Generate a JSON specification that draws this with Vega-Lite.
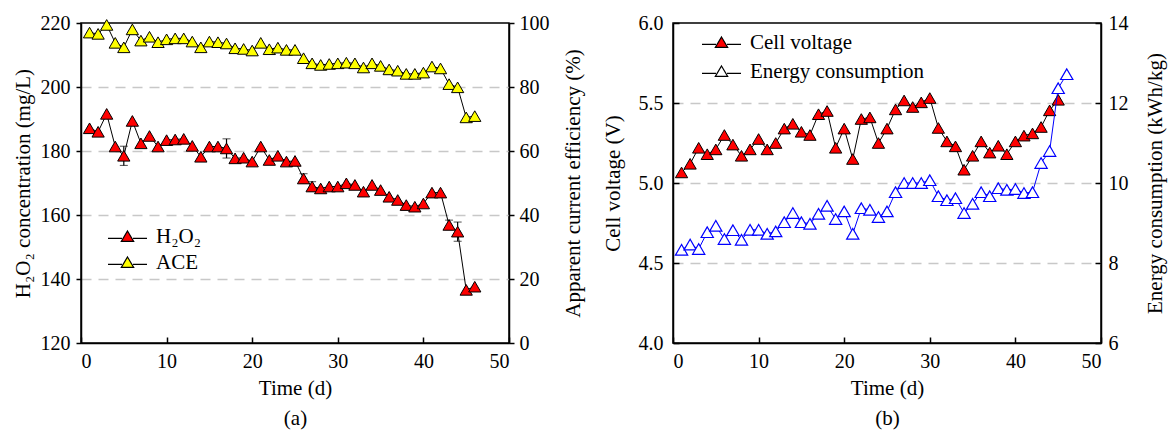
{
  "$schema": "https://vega.github.io/schema/vega-lite/v6.json",
  "background": "white",
  "padding": {"left": 11, "top": 12, "right": 2, "bottom": 2},
  "bounds": "flush",
  "spacing": 164,
  "config": {
    "font": "Liberation Serif, Times New Roman, Times, serif",
    "view": {"stroke": "black", "strokeWidth": 1.5},
    "axis": {
      "domainColor": "black", "domainWidth": 1.5,
      "tickColor": "black", "tickWidth": 1.5, "tickSize": 5,
      "labelFont": "Liberation Serif, Times New Roman, Times, serif", "labelFontSize": 20, "labelColor": "black",
      "titleFont": "Liberation Serif, Times New Roman, Times, serif", "titleFontSize": 21, "titleFontWeight": "normal", "titleColor": "black",
      "grid": false,
      "gridColor": "#c8c8c8", "gridDash": [10, 7], "gridWidth": 1.5
    },
    "legend": {"labelFont": "Liberation Serif, Times New Roman, Times, serif", "labelFontSize": 21, "labelColor": "black", "labelLimit": 0}
  },
  "datasets": {
    "h2o2": [
      {"day": 1, "v": 187.1}, {"day": 2, "v": 186.0}, {"day": 3, "v": 191.6}, {"day": 4, "v": 181.4},
      {"day": 5, "v": 178.5, "err": 3}, {"day": 6, "v": 189.4}, {"day": 7, "v": 182.4}, {"day": 8, "v": 184.7},
      {"day": 9, "v": 181.4}, {"day": 10, "v": 183.4}, {"day": 11, "v": 183.6}, {"day": 12, "v": 183.8},
      {"day": 13, "v": 181.6}, {"day": 14, "v": 178.2}, {"day": 15, "v": 181.4}, {"day": 16, "v": 181.4},
      {"day": 17, "v": 180.8, "err": 3}, {"day": 18, "v": 177.7}, {"day": 19, "v": 177.9}, {"day": 20, "v": 176.7},
      {"day": 21, "v": 181.4}, {"day": 22, "v": 177.2}, {"day": 23, "v": 178.5}, {"day": 24, "v": 176.7},
      {"day": 25, "v": 176.9}, {"day": 26, "v": 171.4, "err": 1.5}, {"day": 27, "v": 168.9, "err": 1.5}, {"day": 28, "v": 168.3},
      {"day": 29, "v": 168.9}, {"day": 30, "v": 168.9}, {"day": 31, "v": 169.9}, {"day": 32, "v": 169.4},
      {"day": 33, "v": 167.3}, {"day": 34, "v": 169.4}, {"day": 35, "v": 167.8}, {"day": 36, "v": 165.7},
      {"day": 37, "v": 164.7}, {"day": 38, "v": 163.1}, {"day": 39, "v": 162.6}, {"day": 40, "v": 163.6},
      {"day": 41, "v": 167.0}, {"day": 42, "v": 167.0}, {"day": 43, "v": 156.9, "err": 1.5}, {"day": 44, "v": 154.8, "err": 3},
      {"day": 45, "v": 136.6}, {"day": 46, "v": 137.6}
    ],
    "ace": [
      {"day": 1, "v": 97.0}, {"day": 2, "v": 96.6}, {"day": 3, "v": 99.4}, {"day": 4, "v": 93.8},
      {"day": 5, "v": 92.4}, {"day": 6, "v": 98.0}, {"day": 7, "v": 94.5}, {"day": 8, "v": 95.7},
      {"day": 9, "v": 94.0}, {"day": 10, "v": 94.9}, {"day": 11, "v": 95.2}, {"day": 12, "v": 95.2},
      {"day": 13, "v": 94.2}, {"day": 14, "v": 92.4}, {"day": 15, "v": 94.2}, {"day": 16, "v": 94.0},
      {"day": 17, "v": 93.6}, {"day": 18, "v": 92.1}, {"day": 19, "v": 91.9}, {"day": 20, "v": 91.4},
      {"day": 21, "v": 93.8}, {"day": 22, "v": 91.8}, {"day": 23, "v": 92.3}, {"day": 24, "v": 91.6},
      {"day": 25, "v": 91.6}, {"day": 26, "v": 89.0}, {"day": 27, "v": 87.4}, {"day": 28, "v": 86.9},
      {"day": 29, "v": 87.2}, {"day": 30, "v": 87.4}, {"day": 31, "v": 87.6}, {"day": 32, "v": 87.4},
      {"day": 33, "v": 86.1}, {"day": 34, "v": 87.4}, {"day": 35, "v": 86.6}, {"day": 36, "v": 85.5},
      {"day": 37, "v": 85.1}, {"day": 38, "v": 84.1}, {"day": 39, "v": 84.1}, {"day": 40, "v": 84.5},
      {"day": 41, "v": 86.4}, {"day": 42, "v": 85.8}, {"day": 43, "v": 80.9}, {"day": 44, "v": 79.9},
      {"day": 45, "v": 70.5}, {"day": 46, "v": 70.9}
    ],
    "volt": [
      {"day": 1, "v": 5.066}, {"day": 2, "v": 5.12}, {"day": 3, "v": 5.22}, {"day": 4, "v": 5.18},
      {"day": 5, "v": 5.21}, {"day": 6, "v": 5.30}, {"day": 7, "v": 5.24}, {"day": 8, "v": 5.17},
      {"day": 9, "v": 5.21}, {"day": 10, "v": 5.275}, {"day": 11, "v": 5.21}, {"day": 12, "v": 5.25},
      {"day": 13, "v": 5.34}, {"day": 14, "v": 5.37}, {"day": 15, "v": 5.32}, {"day": 16, "v": 5.30},
      {"day": 17, "v": 5.43}, {"day": 18, "v": 5.45}, {"day": 19, "v": 5.22}, {"day": 20, "v": 5.34},
      {"day": 21, "v": 5.15}, {"day": 22, "v": 5.40}, {"day": 23, "v": 5.41}, {"day": 24, "v": 5.25},
      {"day": 25, "v": 5.34}, {"day": 26, "v": 5.46}, {"day": 27, "v": 5.516}, {"day": 28, "v": 5.475},
      {"day": 29, "v": 5.504}, {"day": 30, "v": 5.531}, {"day": 31, "v": 5.344}, {"day": 32, "v": 5.26},
      {"day": 33, "v": 5.229}, {"day": 34, "v": 5.083}, {"day": 35, "v": 5.17}, {"day": 36, "v": 5.26},
      {"day": 37, "v": 5.19}, {"day": 38, "v": 5.233}, {"day": 39, "v": 5.18}, {"day": 40, "v": 5.26},
      {"day": 41, "v": 5.296}, {"day": 42, "v": 5.31}, {"day": 43, "v": 5.35}, {"day": 44, "v": 5.454},
      {"day": 45, "v": 5.52}
    ],
    "energy": [
      {"day": 1, "v": 8.33}, {"day": 2, "v": 8.46}, {"day": 3, "v": 8.35}, {"day": 4, "v": 8.77},
      {"day": 5, "v": 8.93}, {"day": 6, "v": 8.60}, {"day": 7, "v": 8.82}, {"day": 8, "v": 8.58},
      {"day": 9, "v": 8.83}, {"day": 10, "v": 8.83}, {"day": 11, "v": 8.73}, {"day": 12, "v": 8.79},
      {"day": 13, "v": 9.02}, {"day": 14, "v": 9.25}, {"day": 15, "v": 9.02}, {"day": 16, "v": 8.98},
      {"day": 17, "v": 9.23}, {"day": 18, "v": 9.43}, {"day": 19, "v": 9.10}, {"day": 20, "v": 9.29},
      {"day": 21, "v": 8.73}, {"day": 22, "v": 9.37}, {"day": 23, "v": 9.33}, {"day": 24, "v": 9.15},
      {"day": 25, "v": 9.29}, {"day": 26, "v": 9.77}, {"day": 27, "v": 10.0}, {"day": 28, "v": 10.0},
      {"day": 29, "v": 10.0}, {"day": 30, "v": 10.07}, {"day": 31, "v": 9.67}, {"day": 32, "v": 9.57},
      {"day": 33, "v": 9.62}, {"day": 34, "v": 9.25}, {"day": 35, "v": 9.48}, {"day": 36, "v": 9.77},
      {"day": 37, "v": 9.67}, {"day": 38, "v": 9.87}, {"day": 39, "v": 9.83}, {"day": 40, "v": 9.85},
      {"day": 41, "v": 9.75}, {"day": 42, "v": 9.77}, {"day": 43, "v": 10.5}, {"day": 44, "v": 10.8},
      {"day": 45, "v": 12.37}, {"day": 46, "v": 12.72}
    ]
  },
  "hconcat": [
    {
      "width": 428, "height": 320,
      "layer": [
        {
          "data": {"name": "h2o2"},
          "encoding": {
            "x": {"field": "day", "type": "quantitative", "scale": {"domain": [0, 50]},
                  "axis": {"values": [0, 10, 20, 30, 40, 50], "title": ["Time (d)", "(a)"], "titleLineHeight": 30, "titlePadding": 6, "tickSize": -6, "labelPadding": 14}},
            "y": {"field": "v", "type": "quantitative", "scale": {"domain": [120, 220]},
                  "axis": {"orient": "left", "values": [120, 140, 160, 180, 200, 220], "title": "H₂O₂ concentration (mg/L)",
                           "grid": true, "gridOpacity": {"condition": {"test": "datum.value == 120 || datum.value == 220", "value": 0}, "value": 1},
                           "labelPadding": 6, "titlePadding": 7}}
          },
          "layer": [
            {"transform": [{"filter": "datum.err > 0"}],
             "mark": {"type": "errorbar", "ticks": {"size": 8, "color": "black", "strokeWidth": 1.2}, "rule": {"color": "black", "strokeWidth": 1.2}},
             "encoding": {"yError": {"field": "err"}}},
            {"mark": {"type": "line", "color": "black", "strokeWidth": 1}},
            {"mark": {"type": "point", "shape": "triangle-up", "filled": true, "size": 150, "stroke": "black", "strokeWidth": 1, "opacity": 1},
             "encoding": {"fill": {"datum": "H₂O₂", "type": "nominal", "scale": {"domain": ["H₂O₂", "ACE"], "range": ["#ff0000", "#ffff00"]},
               "legend": {"orient": "none", "legendX": 36, "legendY": 203, "title": null,
                          "symbolType": "M-3,0.3H-0.85M0.85,0.3H3M0,-0.85L0.95,0.75L-0.95,0.75Z", "symbolSize": 169,
                          "symbolStrokeColor": "black", "symbolStrokeWidth": 1.2, "symbolOpacity": 1, "labelOffset": 18, "rowPadding": 4}}}}
          ]
        },
        {
          "data": {"name": "ace"},
          "encoding": {
            "x": {"field": "day", "type": "quantitative", "scale": {"domain": [0, 50]}},
            "y": {"field": "v", "type": "quantitative", "scale": {"domain": [0, 100]},
                  "axis": {"orient": "right", "values": [0, 20, 40, 60, 80, 100], "title": "Apparent current efficiency (%)", "titleAngle": 270, "titleBaseline": "top",
                           "labelPadding": 5, "titlePadding": 13}}
          },
          "layer": [
            {"mark": {"type": "line", "color": "black", "strokeWidth": 1}},
            {"mark": {"type": "point", "shape": "triangle-up", "filled": true, "size": 150, "stroke": "black", "strokeWidth": 1, "opacity": 1},
             "encoding": {"fill": {"datum": "ACE", "type": "nominal"}}}
          ]
        }
      ],
      "resolve": {"scale": {"y": "independent"}}
    },
    {
      "width": 428, "height": 320,
      "layer": [
        {
          "data": {"name": "volt"},
          "encoding": {
            "x": {"field": "day", "type": "quantitative", "scale": {"domain": [0, 50]},
                  "axis": {"values": [0, 10, 20, 30, 40, 50], "title": ["Time (d)", "(b)"], "titleLineHeight": 30, "titlePadding": 6, "tickSize": -6, "labelPadding": 14}},
            "y": {"field": "v", "type": "quantitative", "scale": {"domain": [4, 6]},
                  "axis": {"orient": "left", "values": [4, 4.5, 5, 5.5, 6], "format": ".1f", "title": "Cell voltage (V)",
                           "grid": true, "gridOpacity": {"condition": {"test": "datum.value == 4 || datum.value == 6", "value": 0}, "value": 1},
                           "tickSize": -6, "labelPadding": 16, "titlePadding": 15}}
          },
          "layer": [
            {"mark": {"type": "line", "color": "black", "strokeWidth": 1}},
            {"mark": {"type": "point", "shape": "triangle-up", "filled": true, "size": 150, "stroke": "black", "strokeWidth": 1, "opacity": 1},
             "encoding": {"fill": {"datum": "Cell voltage", "type": "nominal", "scale": {"domain": ["Cell voltage", "Energy consumption"], "range": ["#ff0000", "#ffffff"]},
               "legend": {"orient": "none", "legendX": 38, "legendY": 9, "title": null,
                          "symbolType": "M-3,0.3H-0.85M0.85,0.3H3M0,-0.85L0.95,0.75L-0.95,0.75Z", "symbolSize": 169,
                          "symbolStrokeWidth": 1.2, "symbolOpacity": 1, "labelOffset": 18, "rowPadding": 7,
                          "encode": {"symbols": {"update": {"stroke": {"signal": "datum.value === 'Energy consumption' ? '#0000ff' : 'black'"}}}}}}}}
          ]
        },
        {
          "data": {"name": "energy"},
          "encoding": {
            "x": {"field": "day", "type": "quantitative", "scale": {"domain": [0, 50]}},
            "y": {"field": "v", "type": "quantitative", "scale": {"domain": [6, 14]},
                  "axis": {"orient": "right", "values": [6, 8, 10, 12, 14], "title": "Energy consumption (kWh/kg)", "titleAngle": 270, "titleBaseline": "top",
                           "tickSize": -6, "labelPadding": 13, "titlePadding": 16}}
          },
          "layer": [
            {"mark": {"type": "line", "color": "#0000ff", "strokeWidth": 1}},
            {"mark": {"type": "point", "shape": "triangle-up", "filled": true, "size": 150, "stroke": "#0000ff", "strokeWidth": 1.2, "opacity": 1},
             "encoding": {"fill": {"datum": "Energy consumption", "type": "nominal"}}}
          ]
        }
      ],
      "resolve": {"scale": {"y": "independent"}}
    }
  ],
  "resolve": {"scale": {"fill": "independent"}, "legend": {"fill": "independent"}}
}
